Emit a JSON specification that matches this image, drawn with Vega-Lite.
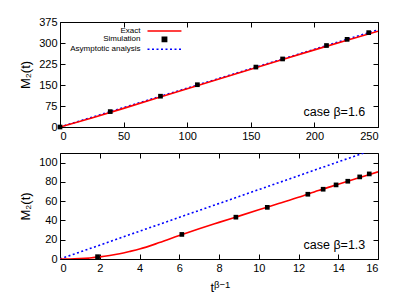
{
  "$schema": "https://vega.github.io/schema/vega-lite/v6.json",
  "background": "white",
  "padding": {"left": 19, "top": 15, "right": 5, "bottom": 3},
  "spacing": 10,
  "config": {
    "font": "Liberation Sans",
    "view": {"stroke": "black", "strokeWidth": 1},
    "axis": {
      "grid": false,
      "domain": false,
      "tickSize": -5,
      "tickColor": "black",
      "tickWidth": 1,
      "labelPadding": 8,
      "labelFontSize": 11,
      "labelColor": "black",
      "titleFontSize": 13,
      "titleFontWeight": "normal",
      "titleColor": "black"
    }
  },
  "vconcat": [
    {
      "width": 318,
      "height": 105,
      "resolve": {"axis": {"x": "independent", "y": "independent"}},
      "layer": [
        {
          "data": {"values": [
            {"series": "Asymptotic analysis", "x": 0, "y": 0},
            {"series": "Asymptotic analysis", "x": 125, "y": 173.5},
            {"series": "Asymptotic analysis", "x": 250, "y": 347}
          ]},
          "mark": {"type": "line", "strokeWidth": 1.6, "strokeDash": [2, 2.5], "clip": true},
          "encoding": {
            "x": {"field": "x", "type": "quantitative", "scale": {"domain": [0, 250], "nice": false}, "axis": {"orient": "top", "labels": false, "title": null, "values": [0, 50, 100, 150, 200, 250]}},
            "y": {"field": "y", "type": "quantitative", "scale": {"domain": [0, 375], "nice": false}, "axis": {"orient": "right", "labels": false, "title": null, "values": [0, 75, 150, 225, 300, 375]}},
            "color": {"field": "series", "type": "nominal",
              "scale": {"domain": ["Exact", "Simulation", "Asymptotic analysis"], "range": ["#ff0000", "#000000", "#0000ff"]},
              "legend": {
                "orient": "none", "legendX": 83.5, "legendY": 5, "title": null,
                "labelFontSize": 8, "labelAlign": "right", "labelOffset": -11,
                "rowPadding": -1.7, "symbolStrokeWidth": 1.6, "symbolSize": 32,
                "labelColor": "black",
                "encode": {
                  "symbols": {"update": {
                    "shape": {"signal": "datum.value === 'Simulation' ? 'M5.25,-0.75H6.75V0.75H5.25Z' : 'M0,0H12'"},
                    "size": {"value": 32},
                    "strokeDash": {"signal": "datum.value === 'Asymptotic analysis' ? [2, 2.5] : []"},
                    "fill": {"signal": "datum.value === 'Simulation' ? '#000000' : 'transparent'"},
                    "stroke": {"signal": "datum.value === 'Simulation' ? 'transparent' : (datum.value === 'Exact' ? '#ff0000' : '#0000ff')"},
                    "strokeWidth": {"value": 1.6},
                    "opacity": {"value": 1}
                  }}
                }
              }
            }
          }
        },
        {
          "data": {"values": [
            {"series": "Exact", "x": 0, "y": 0},
            {"series": "Exact", "x": 25, "y": 32},
            {"series": "Exact", "x": 50, "y": 66.5},
            {"series": "Exact", "x": 75, "y": 101.5},
            {"series": "Exact", "x": 100, "y": 136.5},
            {"series": "Exact", "x": 125, "y": 171.5},
            {"series": "Exact", "x": 150, "y": 206.5},
            {"series": "Exact", "x": 175, "y": 241},
            {"series": "Exact", "x": 200, "y": 275.5},
            {"series": "Exact", "x": 225, "y": 309},
            {"series": "Exact", "x": 250, "y": 342}
          ]},
          "mark": {"type": "line", "strokeWidth": 1.6, "clip": true},
          "encoding": {
            "x": {"field": "x", "type": "quantitative", "scale": {"domain": [0, 250], "nice": false}, "axis": {"orient": "bottom", "title": null, "values": [0, 50, 100, 150, 200, 250]}},
            "y": {"field": "y", "type": "quantitative", "scale": {"domain": [0, 375], "nice": false}, "axis": {"orient": "left", "title": "M₂(t)", "values": [0, 75, 150, 225, 300, 375], "titlePadding": 6}},
            "color": {"field": "series", "type": "nominal", "scale": {"domain": ["Exact", "Simulation", "Asymptotic analysis"], "range": ["#ff0000", "#000000", "#0000ff"]}}
          }
        },
        {
          "data": {"values": [
            {"series": "Simulation", "x": 0, "y": 0},
            {"series": "Simulation", "x": 39.5, "y": 55},
            {"series": "Simulation", "x": 79, "y": 110},
            {"series": "Simulation", "x": 108, "y": 151},
            {"series": "Simulation", "x": 154, "y": 214},
            {"series": "Simulation", "x": 175, "y": 243},
            {"series": "Simulation", "x": 209.5, "y": 291},
            {"series": "Simulation", "x": 225.7, "y": 313},
            {"series": "Simulation", "x": 242.7, "y": 337}
          ]},
          "mark": {"type": "square", "size": 22, "opacity": 1, "filled": true, "clip": false},
          "encoding": {
            "x": {"field": "x", "type": "quantitative", "axis": null},
            "y": {"field": "y", "type": "quantitative", "axis": null},
            "color": {"field": "series", "type": "nominal", "scale": {"domain": ["Exact", "Simulation", "Asymptotic analysis"], "range": ["#ff0000", "#000000", "#0000ff"]}}
          }
        },
        {
          "data": {"values": [{"label": "case β=1.6", "x": 240, "y": 55}]},
          "mark": {"type": "text", "align": "right", "baseline": "middle", "fontSize": 12.5, "color": "black"},
          "encoding": {
            "x": {"field": "x", "type": "quantitative", "axis": null},
            "y": {"field": "y", "type": "quantitative", "axis": null},
            "text": {"field": "label"}
          }
        }
      ]
    },
    {
      "width": 318,
      "height": 106,
      "resolve": {"axis": {"x": "independent", "y": "independent"}},
      "layer": [
        {
          "data": {"values": [
            {"series": "Asymptotic analysis", "x": 0, "y": 0},
            {"series": "Asymptotic analysis", "x": 8, "y": 57.6},
            {"series": "Asymptotic analysis", "x": 16, "y": 115.2}
          ]},
          "mark": {"type": "line", "strokeWidth": 1.6, "strokeDash": [2, 2.5], "clip": true},
          "encoding": {
            "x": {"field": "x", "type": "quantitative", "scale": {"domain": [0, 16], "nice": false}, "axis": {"orient": "top", "labels": false, "title": null, "values": [0, 2, 4, 6, 8, 10, 12, 14, 16]}},
            "y": {"field": "y", "type": "quantitative", "scale": {"domain": [0, 110], "nice": false}, "axis": {"orient": "right", "labels": false, "title": null, "values": [0, 20, 40, 60, 80, 100]}},
            "color": {"field": "series", "type": "nominal", "scale": {"domain": ["Exact", "Simulation", "Asymptotic analysis"], "range": ["#ff0000", "#000000", "#0000ff"]}, "legend": null}
          }
        },
        {
          "data": {"values": [
            {"series": "Exact", "x": 0, "y": 0},
            {"series": "Exact", "x": 0.5, "y": 0.05},
            {"series": "Exact", "x": 1, "y": 0.4},
            {"series": "Exact", "x": 1.5, "y": 1.1},
            {"series": "Exact", "x": 2, "y": 2.2},
            {"series": "Exact", "x": 2.5, "y": 3.7},
            {"series": "Exact", "x": 3, "y": 5.5},
            {"series": "Exact", "x": 3.5, "y": 7.8},
            {"series": "Exact", "x": 4, "y": 10.3},
            {"series": "Exact", "x": 5, "y": 17},
            {"series": "Exact", "x": 6, "y": 24.4},
            {"series": "Exact", "x": 7, "y": 31.4},
            {"series": "Exact", "x": 8, "y": 38},
            {"series": "Exact", "x": 9, "y": 44.5},
            {"series": "Exact", "x": 10, "y": 51},
            {"series": "Exact", "x": 11, "y": 57.5},
            {"series": "Exact", "x": 12, "y": 64},
            {"series": "Exact", "x": 13, "y": 71},
            {"series": "Exact", "x": 14, "y": 77.5},
            {"series": "Exact", "x": 15, "y": 84},
            {"series": "Exact", "x": 16, "y": 90.5}
          ]},
          "mark": {"type": "line", "strokeWidth": 1.6, "clip": true, "interpolate": "monotone"},
          "encoding": {
            "x": {"field": "x", "type": "quantitative", "scale": {"domain": [0, 16], "nice": false}, "axis": {"orient": "bottom", "title": null, "values": [0, 2, 4, 6, 8, 10, 12, 14, 16]}},
            "y": {"field": "y", "type": "quantitative", "scale": {"domain": [0, 110], "nice": false}, "axis": {"orient": "left", "title": "M₂(t)", "values": [0, 20, 40, 60, 80, 100], "titlePadding": 6}},
            "color": {"field": "series", "type": "nominal", "scale": {"domain": ["Exact", "Simulation", "Asymptotic analysis"], "range": ["#ff0000", "#000000", "#0000ff"]}, "legend": null}
          }
        },
        {
          "data": {"values": [
            {"series": "Simulation", "x": 1.89, "y": 2.4},
            {"series": "Simulation", "x": 6.13, "y": 25.5},
            {"series": "Simulation", "x": 8.85, "y": 43.4},
            {"series": "Simulation", "x": 10.43, "y": 53.6},
            {"series": "Simulation", "x": 12.47, "y": 67.2},
            {"series": "Simulation", "x": 13.24, "y": 72.4},
            {"series": "Simulation", "x": 13.89, "y": 76.9},
            {"series": "Simulation", "x": 14.48, "y": 80.7},
            {"series": "Simulation", "x": 15.08, "y": 85.2},
            {"series": "Simulation", "x": 15.56, "y": 88.3}
          ]},
          "mark": {"type": "square", "size": 22, "opacity": 1, "filled": true},
          "encoding": {
            "x": {"field": "x", "type": "quantitative", "axis": null},
            "y": {"field": "y", "type": "quantitative", "axis": null},
            "color": {"field": "series", "type": "nominal", "scale": {"domain": ["Exact", "Simulation", "Asymptotic analysis"], "range": ["#ff0000", "#000000", "#0000ff"]}, "legend": null}
          }
        },
        {
          "data": {"values": [{"label": "case β=1.3", "x": 15.36, "y": 14.2}]},
          "mark": {"type": "text", "align": "right", "baseline": "middle", "fontSize": 12.5, "color": "black"},
          "encoding": {
            "x": {"field": "x", "type": "quantitative", "axis": null},
            "y": {"field": "y", "type": "quantitative", "axis": null},
            "text": {"field": "label"}
          }
        },
        {
          "data": {"values": [{"label": "t", "x": 7.75, "y": -34.2}]},
          "mark": {"type": "text", "align": "right", "baseline": "alphabetic", "fontSize": 13, "color": "black", "clip": false},
          "encoding": {
            "x": {"field": "x", "type": "quantitative", "axis": null},
            "y": {"field": "y", "type": "quantitative", "axis": null},
            "text": {"field": "label"}
          }
        },
        {
          "data": {"values": [{"label": "β−1", "x": 7.75, "y": -30.5}]},
          "mark": {"type": "text", "align": "left", "baseline": "alphabetic", "fontSize": 9.5, "color": "black", "clip": false},
          "encoding": {
            "x": {"field": "x", "type": "quantitative", "axis": null},
            "y": {"field": "y", "type": "quantitative", "axis": null},
            "text": {"field": "label"}
          }
        }
      ]
    }
  ]
}
